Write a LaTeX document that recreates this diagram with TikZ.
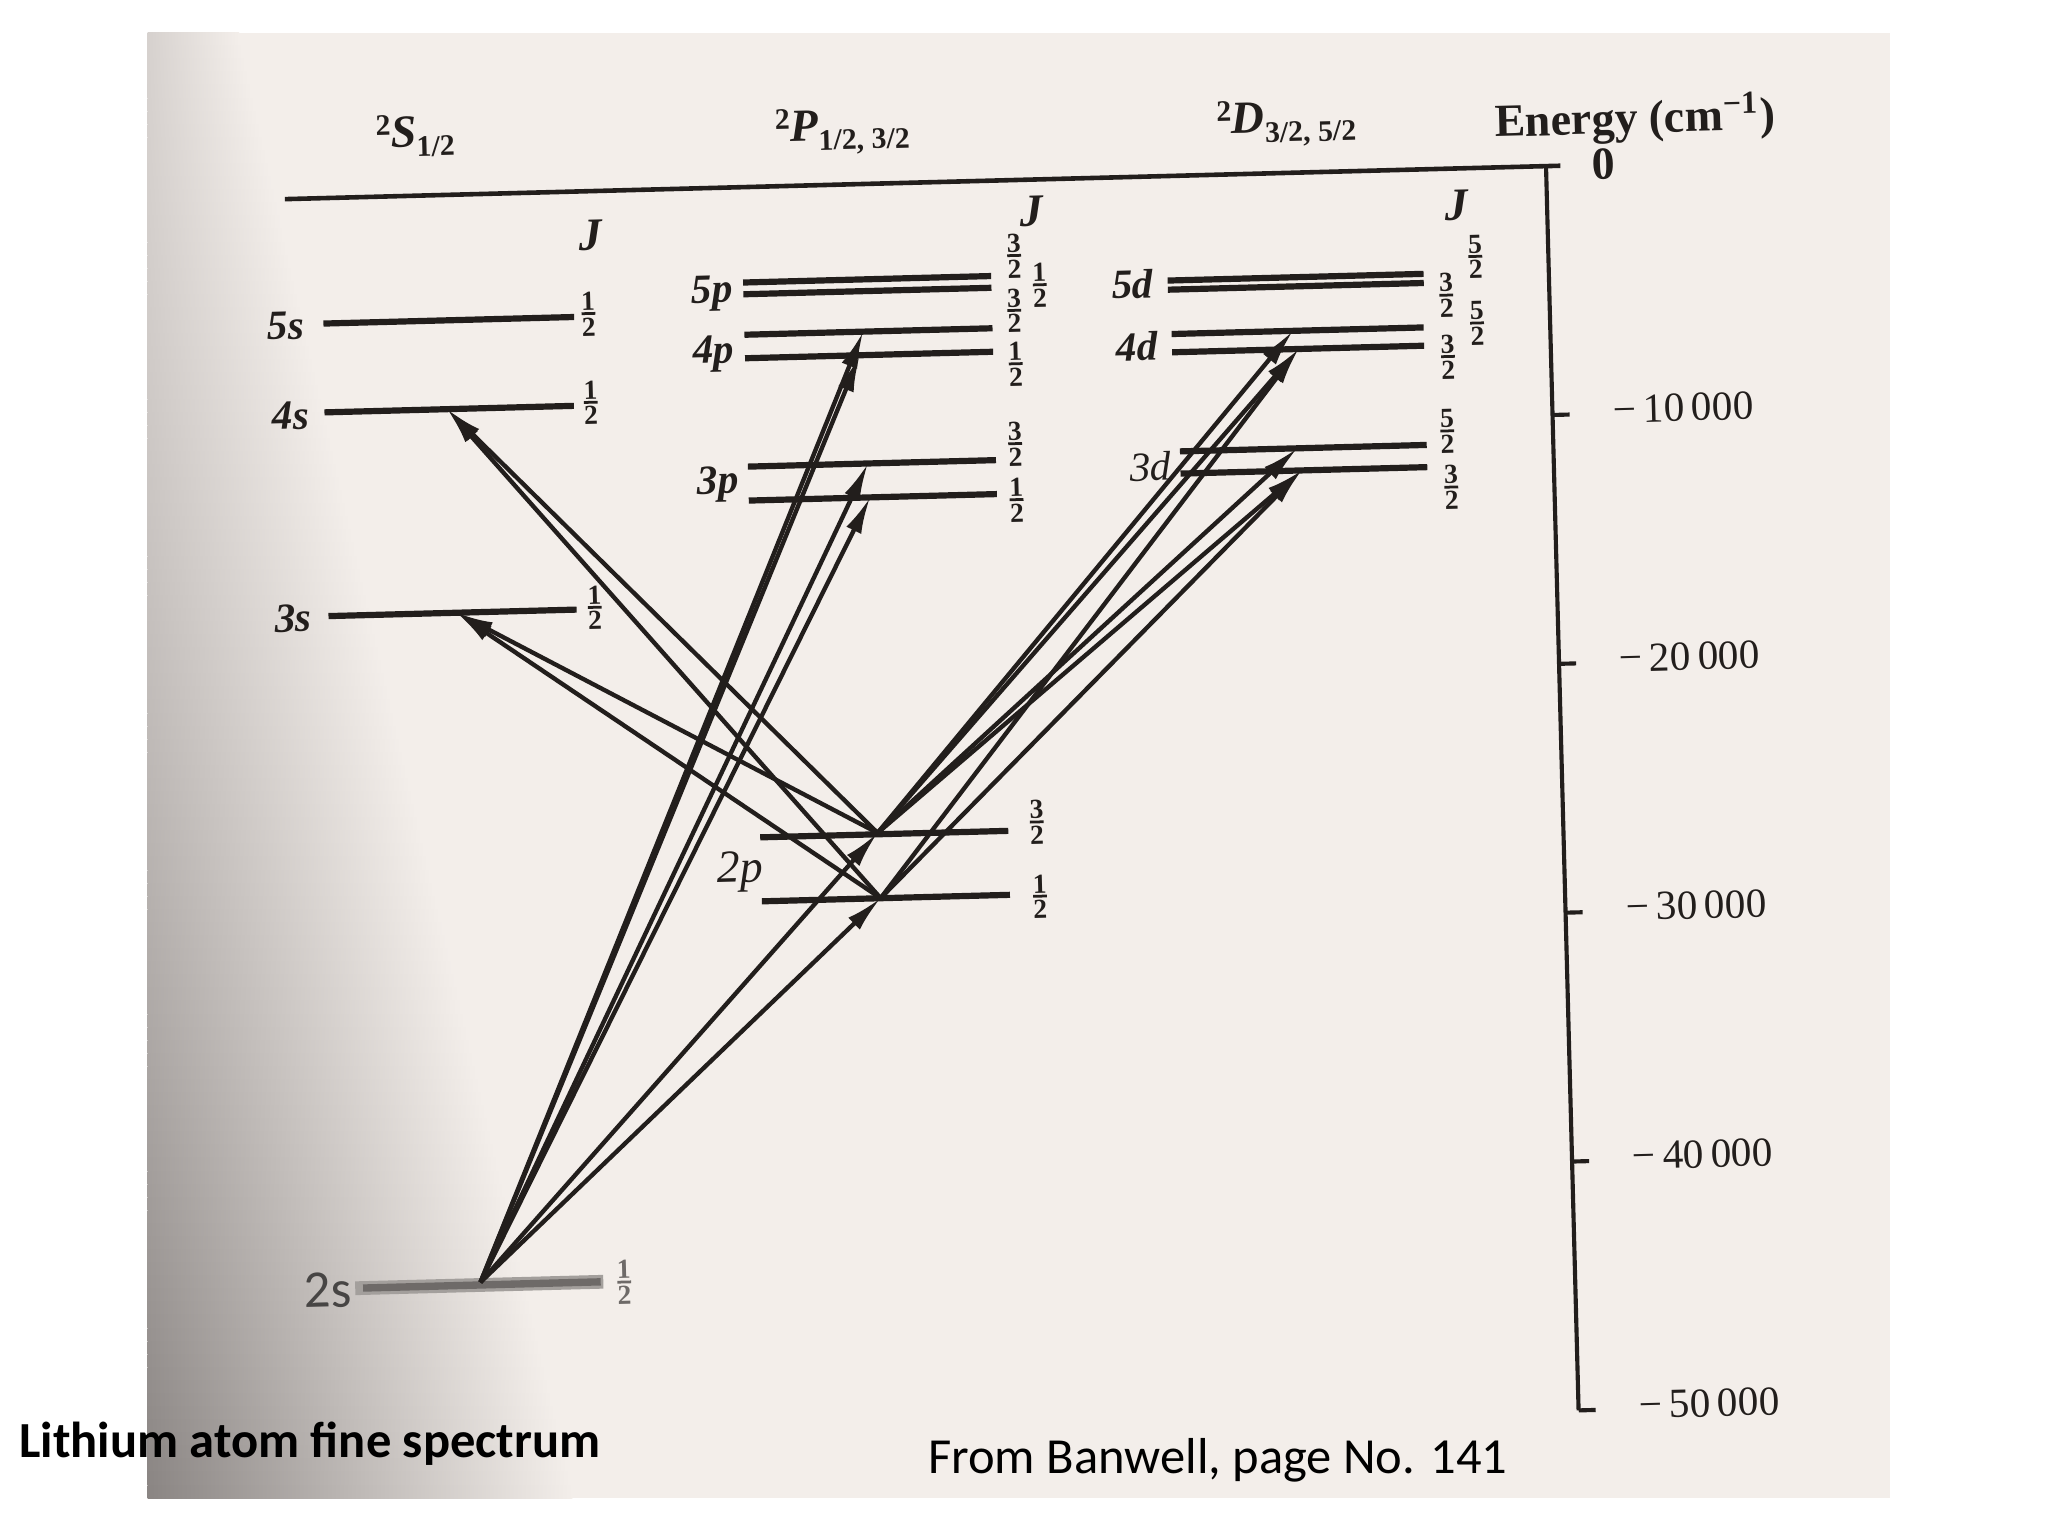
\documentclass[tikz,border=0pt]{standalone}
\usepackage{fontspec}
\setmainfont{Liberation Serif}
\newfontfamily\calibri{Carlito}
\usetikzlibrary{arrows.meta}
\definecolor{ink}{RGB}{34,30,28}
\definecolor{paper}{RGB}{243,238,234}
\definecolor{lg}{RGB}{214,209,206}
\definecolor{dk}{RGB}{138,133,131}
\definecolor{fog}{RGB}{110,106,104}
\newcommand{\jf}[2]{{\fontsize{6}{6}\selectfont\bfseries\setbox0\hbox{#1}\vbox{\hbox to \wd0{\hss#1\hss}\kern0.4pt\hrule height 0.6pt\kern0.6pt\hbox to \wd0{\hss#2\hss}}}}
\newcommand{\term}[2]{\raisebox{0.6ex}{\fontsize{6.5}{7}\selectfont\bfseries 2}\textbf{\textit{#1}}\raisebox{-0.45ex}{\fontsize{6.5}{7}\selectfont\bfseries #2}}
\begin{document}
\begin{tikzpicture}[x=0.01cm,y=-0.01cm,
  lev/.style={draw=ink,line width=1.35pt},
  tr/.style={draw=ink,line width=0.95pt,-{Latex[length=8pt,width=3.6pt]}},
  lab/.style={text=ink,font=\fontsize{9}{10}\selectfont\bfseries\itshape,inner sep=0pt},
  jl/.style={text=ink,inner sep=0pt},
  hd/.style={text=ink,inner sep=0pt,font=\fontsize{10}{12}\selectfont},
  tk/.style={text=ink,font=\fontsize{9}{10}\selectfont,inner sep=0pt}]
\useasboundingbox (0,0) rectangle (1568,1176);
\fill[white] (0,0) rectangle (1568,1176);
\fill[paper] (113,25) rectangle (1447,1147);
\foreach \i in {0,...,111}{
  \pgfmathsetmacro\p{100*(\i/111)^1.6}
  \pgfmathsetmacro\w{70+2.3*\i}
  \shade[left color=dk!\p!lg,right color=paper] (113,{25+10.018*\i}) rectangle ({113+\w},{25+10.018*(\i+1)+0.5});
}
\begin{scope}[rotate around={1.5:(700,600)},transform shape]
% frame: top line and energy axis
\coordinate (tl) at (230,140);
\coordinate (tr0) at (1207,140);
\coordinate (ax0) at (1196,140);
\coordinate (ax5) at (1196,1093);
\draw[ink,line width=1pt] (tl) -- (tr0);
\draw[ink,line width=0.9pt] (ax0) -- (ax5);
\foreach \k/\txt in {1/10,2/20,3/30,4/40,5/50}{
  \draw[ink,line width=0.9pt] (1196,{140+190.6*\k}) -- (1209,{140+190.6*\k});
  \node[tk] (t\k) at (1296,{137+190.6*\k}) {−\,\txt\,000};
}
% headers
\node[hd] (hS) at (331,94) {\term{S}{1/2}};
\node[hd] (hP) at (658,99) {\term{P}{1/2, 3/2}};
\node[hd] (hD) at (998,102) {\term{D}{3/2, 5/2}};
\node[hd,font=\fontsize{10}{12}\selectfont\bfseries] (hE) at (1265,106) {Energy (cm\textsuperscript{−1})};
\node[hd,font=\fontsize{10}{12}\selectfont\bfseries] (h0) at (1240,140) {0};
\node[hd,font=\fontsize{10}{12}\selectfont\bfseries\itshape] (jS) at (463,174) {J};
\node[hd,font=\fontsize{10}{12}\selectfont\bfseries\itshape] (jP) at (801,164) {J};
\node[hd,font=\fontsize{10}{12}\selectfont\bfseries\itshape] (jD) at (1127,168) {J};
% S levels
\draw[lev] (257,236) -- (449,236);
\draw[lev] (256,304) -- (447,304);
\draw[lev] (255,460) -- (445,460);
\draw[fog!60!paper,line width=3pt] (262,975) -- (452,975);
\draw[fog,line width=1.6pt] (268,975) -- (450,975);
\node[lab] (l5s) at (228,237) {5s};
\node[lab] (l4s) at (230,306) {4s};
\node[lab] (l3s) at (228,461) {3s};
\node[inner sep=0pt,text=fog!65!black,font=\calibri\fontsize{11.5}{12}\selectfont] (l2s) at (241,976) {2s};
\node[jl] (j5s) at (460,234) {\jf{1}{2}};
\node[jl] (j4s) at (460,302) {\jf{1}{2}};
\node[jl] (j3s) at (459,459) {\jf{1}{2}};
\node[jl,text=fog] (j2s) at (468,976) {\jf{1}{2}};
% P levels
\foreach \y in {213,222,253,271,354,380}{\draw[lev] (579,\y) -- (769,\y);}
\draw[lev] (581,638) -- (771,638);
\draw[lev] (581,687) -- (771,687);
\node[lab] (l5p) at (555,221) {5p};
\node[lab] (l4p) at (555,267) {4p};
\node[lab] (l3p) at (556,367) {3p};
\node[lab,font=\fontsize{10}{11}\selectfont\itshape] (l2p) at (565,664) {2p};
\node[jl] (j5pa) at (787,198) {\jf{3}{2}};
\node[jl] (j5pb) at (806,221) {\jf{1}{2}};
\node[jl] (j4pa) at (786,240) {\jf{3}{2}};
\node[jl] (j4pb) at (786,281) {\jf{1}{2}};
\node[jl] (j3pa) at (784,342) {\jf{3}{2}};
\node[jl] (j3pb) at (784,385) {\jf{1}{2}};
\node[jl] (j2pa) at (793,632) {\jf{3}{2}};
\node[jl] (j2pb) at (794,689) {\jf{1}{2}};
% D levels
\draw[lev] (904,220) -- (1100,220);
\draw[lev] (904,227) -- (1100,227);
\draw[lev] (906,261) -- (1099,261);
\draw[lev] (906,275) -- (1099,275);
\draw[lev] (910,351) -- (1099,351);
\draw[lev] (910,368) -- (1099,368);
\node[lab] (l5d) at (877,222) {5d};
\node[lab] (l4d) at (879,270) {4d};
\node[lab,font=\fontsize{9}{10}\selectfont\itshape] (l3d) at (887,362) {3d};
\node[jl] (j5da) at (1140,208) {\jf{5}{2}};
\node[jl] (j5db) at (1117,237) {\jf{3}{2}};
\node[jl] (j4da) at (1140,259) {\jf{5}{2}};
\node[jl] (j4db) at (1117,284) {\jf{3}{2}};
\node[jl] (j3da) at (1115,341) {\jf{5}{2}};
\node[jl] (j3db) at (1117,384) {\jf{3}{2}};
% transition end points
\coordinate (g) at (358,973);
\coordinate (pA) at (671,637);
\coordinate (pB) at (672,687);
\coordinate (s4) at (350,304);
\coordinate (s3) at (353,460);
\coordinate (p4A) at (670,253);
\coordinate (p4B) at (667,271);
\coordinate (p3A) at (671,354);
\coordinate (p3B) at (672,380);
\coordinate (d3A) at (1000,351);
\coordinate (d3B) at (1003,368);
\coordinate (d4A) at (999,261);
\coordinate (d4B) at (1003,275);
% principal series
\draw[tr] (g) -- (pA);
\draw[tr] (g) -- (pB);
\draw[tr] (g) -- (p3A);
\draw[tr] (g) -- (p3B);
\draw[tr] (g) -- (p4A);
\draw[tr] (g) -- (p4B);
% sharp series
\draw[tr] (pA) -- (s3);
\draw[tr] (pB) -- (s3);
\draw[tr] (pA) -- (s4);
\draw[tr] (pB) -- (s4);
% diffuse series
\draw[tr] (pA) -- (d3A);
\draw[tr] (pA) -- (d3B);
\draw[tr] (pB) -- (d3B);
\draw[tr] (pA) -- (d4A);
\draw[tr] (pA) -- (d4B);
\draw[tr] (pB) -- (d4B);
\end{scope}
% captions
\node[anchor=base west,inner sep=0pt,font=\calibri\bfseries\fontsize{11}{13}\selectfont] (cap) at (14,1116) {Lithium atom fine spectrum};
\node[anchor=base west,inner sep=0pt,font=\calibri\fontsize{11}{13}\selectfont] (src) at (710,1128) {From Banwell, page No. 141};
\end{tikzpicture}
\end{document}
